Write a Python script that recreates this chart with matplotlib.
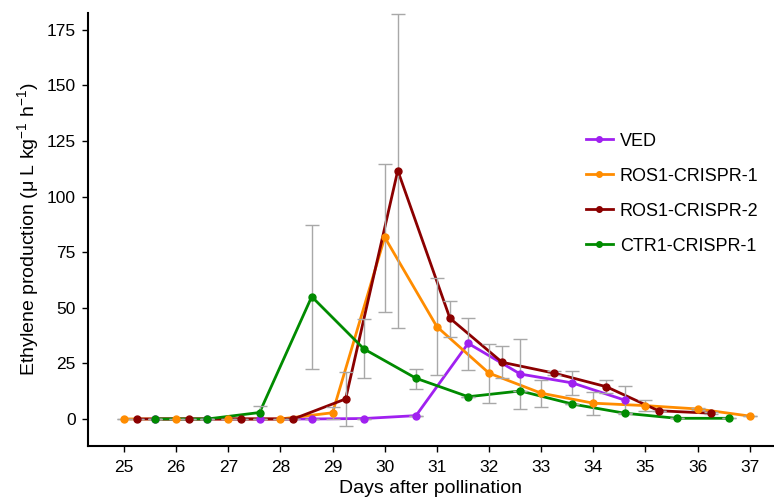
import matplotlib
matplotlib.use("Agg")
import matplotlib.pyplot as plt
import numpy as np

plt.rcParams['font.family'] = ['Liberation Sans', 'DejaVu Sans']
plt.rcParams['mathtext.fontset'] = 'custom'
plt.rcParams['mathtext.rm'] = 'Liberation Sans'
plt.rcParams['mathtext.it'] = 'Liberation Sans:italic'

# days after pollination (series are slightly dodged)
ved_days = [25.6, 26.6, 27.6, 28.6, 29.6, 30.6, 31.6, 32.6, 33.6, 34.6]
ved_vals = [0, 0, 0, 0, 0.2, 1.5, 34.0, 20.2, 16.2, 8.5]
ved_lo = [0, 0, 0, 0, 0.2, 1.5, 22.2, 4.5, 10.7, 2.2]
ved_hi = [0, 0, 0, 0, 0.2, 1.5, 45.6, 35.8, 21.6, 15.0]

ros1_days = [25, 26, 27, 28, 29, 30, 31, 32, 33, 34, 35, 36, 37]
ros1_vals = [0, 0, 0, 0, 2.8, 81.7, 41.5, 20.6, 11.6, 7.1, 6.0, 4.5, 1.3]
ros1_lo = [0, 0, 0, 0, 0.1, 48.3, 19.7, 7.3, 5.5, 1.8, 3.4, 4.0, 1.3]
ros1_hi = [0, 0, 0, 0, 5.5, 114.8, 63.5, 33.7, 17.5, 12.3, 8.5, 5.0, 1.3]

ros2_days = [25.25, 26.25, 27.25, 28.25, 29.25, 30.25, 31.25, 32.25, 33.25,
             34.25, 35.25, 36.25]
ros2_vals = [0, 0, 0, 0, 9.0, 111.7, 45.3, 25.5, 20.6, 14.5, 3.7, 2.6]
ros2_lo = [0, 0, 0, 0, -3.1, 41.1, 37.0, 18.3, 19.6, 11.6, 3.7, 2.2]
ros2_hi = [0, 0, 0, 0, 21.3, 182.0, 53.2, 32.6, 21.6, 17.5, 3.7, 3.0]

ctr_days = [25.6, 26.6, 27.6, 28.6, 29.6, 30.6, 31.6, 32.6, 33.6, 34.6,
            35.6, 36.6]
ctr_vals = [0, 0, 2.9, 55.0, 31.5, 18.3, 10.0, 12.6, 6.7, 2.6, 0.3, 0.3]
ctr_lo = [0, 0, 0.0, 22.6, 18.4, 13.6, 10.0, 12.6, 6.7, 2.6, 0.3, 0.3]
ctr_hi = [0, 0, 5.8, 87.3, 44.8, 22.6, 10.0, 12.6, 6.7, 2.6, 0.3, 0.3]

series = [
    ("VED", ved_days, ved_vals, ved_lo, ved_hi, "#A020F0"),
    ("ROS1-CRISPR-1", ros1_days, ros1_vals, ros1_lo, ros1_hi, "#FF8C00"),
    ("ROS1-CRISPR-2", ros2_days, ros2_vals, ros2_lo, ros2_hi, "#8B0000"),
    ("CTR1-CRISPR-1", ctr_days, ctr_vals, ctr_lo, ctr_hi, "#008B00"),
]

fig = plt.figure(figsize=(7.74, 5.01), dpi=100)
ax = fig.add_axes([0.1137, 0.1098, 0.886, 0.864])

for name, d, v, lo, hi, col in series:
    d = np.array(d); v = np.array(v)
    lo = np.array(lo); hi = np.array(hi)
    ax.plot(d, v, '-', color=col, lw=2.0, zorder=2)
    ax.plot(d, v, 'o', color=col, ms=5, zorder=4)
    ax.errorbar(d, v, yerr=[v - lo, hi - v], fmt='none', ecolor='#a8a8a8',
                elinewidth=1.0, capsize=5, capthick=1.0, zorder=3)

handles = [plt.Line2D([], [], color=s[5], lw=2.0, marker='o', ms=4)
           for s in series]
fig.legend(handles, [s[0] for s in series], loc='center left',
           bbox_to_anchor=(0.757, 0.6134), frameon=False, fontsize=13,
           labelspacing=1.0, handlelength=1.48, handletextpad=0.4,
           borderpad=0, borderaxespad=0)

ax.set_xlim(24.31, 37.46)
ax.set_ylim(-12.15, 182.5)
ax.set_xticks(range(25, 38))
ax.set_yticks([0, 25, 50, 75, 100, 125, 150, 175])
for sp in ['top', 'right']:
    ax.spines[sp].set_visible(False)
for sp in ['left', 'bottom']:
    ax.spines[sp].set_linewidth(1.5)
ax.tick_params(axis='both', direction='out', length=4.5, width=1.0,
               labelsize=12.5, colors='black')
ax.tick_params(axis='y', pad=4.5)
ax.tick_params(axis='x', pad=5.5)
ax.set_xlabel("Days after pollination", fontsize=14, labelpad=4)
ax.set_ylabel("Ethylene production (μ L kg$^{-1}$ h$^{-1}$)", fontsize=14,
              labelpad=4)

fig.savefig("out.png", dpi=100)
